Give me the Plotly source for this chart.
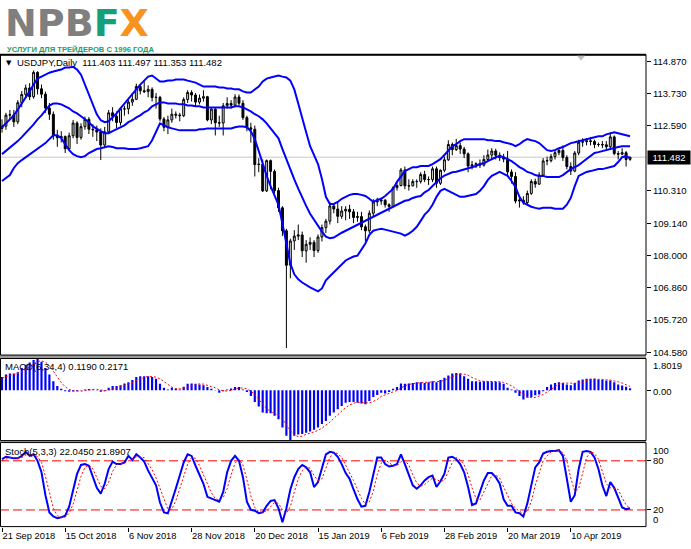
import plotly.graph_objects as go

# ---------------- DATA ----------------
date_ticks = [0, 16, 32, 48, 64, 80, 96, 112, 128, 144]
date_labels = ["21 Sep 2018", "15 Oct 2018", "6 Nov 2018", "28 Nov 2018", "20 Dec 2018",
               "15 Jan 2019", "6 Feb 2019", "28 Feb 2019", "20 Mar 2019", "10 Apr 2019"]

price_ticks = [114.87, 113.73, 112.59, 110.31, 109.14, 108.00, 106.86, 105.72, 104.58]
price_labels = ["114.870", "113.730", "112.590", "110.310", "109.140", "108.000", "106.860", "105.720", "104.580"]
last_price = 111.482

open_ = [112.50, 112.58, 112.97, 112.98, 112.73, 113.41, 113.70, 113.93, 113.62, 114.48,
         113.90, 113.71, 113.22, 113.00, 112.24, 112.17, 112.21, 111.78, 112.24, 112.69,
         112.18, 112.56, 112.82, 112.47, 112.45, 112.37, 111.91, 112.38, 113.05, 112.93,
         112.71, 113.19, 113.19, 113.43, 113.53, 113.98, 113.83, 113.80, 113.88, 113.59,
         113.60, 112.83, 112.54, 112.80, 113.00, 112.97, 112.95, 113.52, 113.77, 113.68,
         113.43, 113.57, 113.62, 112.80, 113.18, 112.70, 112.69, 113.30, 113.38, 113.32,
         113.61, 113.39, 112.88, 112.52, 112.47, 111.22, 111.23, 110.29, 111.36, 110.98,
         110.30, 109.69, 108.88, 107.66, 108.52, 108.69, 108.73, 108.17, 108.40, 108.47,
         108.18, 108.66, 108.99, 109.22, 109.76, 109.65, 109.39, 109.58, 109.64, 109.55,
         109.35, 109.38, 109.02, 108.88, 109.50, 109.90, 109.93, 109.96, 109.80, 109.74,
         110.40, 110.48, 111.03, 110.47, 110.47, 110.62, 110.62, 110.87, 110.69, 110.69,
         111.07, 110.56, 111.02, 111.39, 111.93, 111.75, 111.89, 111.77, 111.60, 111.17,
         111.21, 111.25, 111.20, 111.40, 111.56, 111.70, 111.55, 111.46, 111.42, 110.96,
         110.80, 109.93, 109.96, 109.88, 110.20, 110.62, 110.53, 110.85, 111.35, 111.36,
         111.50, 111.64, 111.72, 111.47, 111.15, 110.99, 111.63, 112.01, 112.03, 112.06,
         112.04, 111.93, 111.93, 111.92, 111.85, 112.20, 111.61, 111.59, 111.64, 111.403]

high = [112.82, 113.05, 113.15, 113.15, 113.50, 113.82, 114.05, 114.10, 114.55, 114.52,
        114.05, 113.80, 113.40, 113.10, 112.45, 112.40, 112.25, 112.35, 112.80, 112.75,
        112.68, 112.92, 112.90, 112.65, 112.60, 112.50, 112.55, 113.15, 113.25, 113.10,
        113.25, 113.30, 113.50, 113.75, 114.08, 114.05, 114.21, 114.02, 113.95, 113.75,
        113.65, 112.90, 112.95, 113.20, 113.10, 113.05, 113.60, 113.85, 113.85, 113.75,
        113.70, 113.85, 113.65, 113.25, 113.22, 112.95, 113.40, 113.60, 113.50, 113.71,
        113.70, 113.50, 112.95, 112.70, 112.60, 111.45, 111.40, 111.40, 111.40, 111.05,
        110.40, 109.75, 108.95, 108.60, 108.90, 109.10, 108.85, 108.55, 108.65, 108.55,
        108.75, 109.10, 109.30, 109.90, 109.85, 109.90, 109.75, 109.75, 109.80, 109.65,
        109.55, 109.55, 109.10, 109.60, 110.00, 110.05, 110.05, 110.00, 109.85, 110.45,
        110.60, 111.10, 111.15, 110.70, 110.70, 110.70, 110.95, 111.00, 110.80, 111.15,
        111.15, 111.05, 111.50, 112.08, 112.00, 112.13, 112.00, 111.85, 111.65, 111.35,
        111.30, 111.40, 111.55, 111.75, 111.80, 111.78, 111.65, 111.60, 111.70, 111.05,
        110.95, 110.10, 110.10, 110.30, 110.70, 110.72, 110.95, 111.45, 111.50, 111.60,
        111.75, 111.80, 111.90, 111.55, 111.30, 111.70, 112.10, 112.15, 112.15, 112.20,
        112.10, 112.00, 112.05, 112.05, 112.35, 112.25, 111.70, 111.80, 111.70, 111.497]

low = [112.35, 112.45, 112.80, 112.55, 112.65, 113.25, 113.60, 113.50, 113.55, 113.70,
       113.57, 113.05, 112.80, 112.10, 111.85, 112.00, 111.63, 111.70, 112.15, 111.95,
       112.10, 112.45, 112.30, 112.20, 112.05, 111.38, 111.80, 112.30, 112.75, 112.50,
       112.60, 112.95, 113.00, 113.30, 113.50, 113.70, 113.75, 113.60, 113.45, 113.20,
       112.75, 112.40, 112.30, 112.70, 112.85, 112.75, 112.90, 113.40, 113.45, 113.30,
       113.35, 113.45, 112.75, 112.65, 112.25, 112.55, 112.25, 113.20, 113.20, 113.25,
       113.30, 112.80, 112.40, 112.00, 110.80, 110.95, 110.25, 110.25, 110.35, 110.20,
       109.55, 108.70, 104.73, 107.20, 108.20, 108.55, 107.95, 107.75, 108.20, 107.95,
       108.10, 108.50, 108.80, 109.10, 109.50, 109.15, 109.30, 109.25, 109.30, 109.15,
       109.20, 108.90, 108.50, 108.80, 109.40, 109.75, 109.80, 109.70, 109.55, 109.70,
       110.30, 110.45, 110.35, 110.30, 110.45, 110.40, 110.55, 110.60, 110.50, 110.60,
       110.40, 110.50, 110.95, 111.35, 111.55, 111.70, 111.60, 111.45, 110.95, 111.05,
       111.10, 111.10, 111.15, 111.35, 111.40, 111.40, 111.35, 111.30, 110.85, 110.55,
       109.85, 109.70, 109.80, 109.82, 110.15, 110.40, 110.50, 110.80, 111.20, 111.30,
       111.40, 111.55, 111.35, 111.05, 110.85, 110.95, 111.55, 111.85, 111.90, 111.90,
       111.80, 111.85, 111.80, 111.75, 111.80, 111.55, 111.40, 111.55, 111.15, 111.353]

close = [112.58, 112.97, 112.98, 112.73, 113.41, 113.70, 113.93, 113.62, 114.48, 113.90,
         113.71, 113.22, 113.00, 112.24, 112.17, 112.21, 111.78, 112.24, 112.69, 112.18,
         112.56, 112.82, 112.47, 112.45, 112.37, 111.91, 112.38, 113.05, 112.93, 112.71,
         113.19, 113.19, 113.43, 113.53, 113.98, 113.83, 113.80, 113.88, 113.59, 113.60,
         112.83, 112.54, 112.80, 113.00, 112.97, 112.95, 113.52, 113.77, 113.68, 113.43,
         113.57, 113.62, 112.80, 113.18, 112.70, 112.69, 113.30, 113.38, 113.32, 113.61,
         113.39, 112.88, 112.52, 112.47, 111.22, 111.23, 110.29, 111.36, 110.98, 110.30,
         109.69, 108.88, 107.66, 108.52, 108.69, 108.73, 108.17, 108.40, 108.47, 108.18,
         108.66, 108.99, 109.22, 109.76, 109.65, 109.39, 109.58, 109.64, 109.55, 109.35,
         109.38, 109.02, 108.88, 109.50, 109.90, 109.93, 109.96, 109.80, 109.74, 110.40,
         110.48, 111.03, 110.47, 110.47, 110.62, 110.62, 110.87, 110.69, 110.69, 111.07,
         110.56, 111.02, 111.39, 111.93, 111.75, 111.89, 111.77, 111.60, 111.17, 111.21,
         111.25, 111.20, 111.40, 111.56, 111.70, 111.55, 111.46, 111.42, 110.96, 110.80,
         109.93, 109.96, 109.88, 110.20, 110.62, 110.53, 110.85, 111.35, 111.36, 111.50,
         111.64, 111.72, 111.47, 111.15, 110.99, 111.63, 112.01, 112.03, 112.06, 112.04,
         111.93, 111.93, 111.92, 111.85, 112.20, 111.61, 111.59, 111.64, 111.40, 111.482]

bb_upper = [112.54, 112.68, 112.82, 112.96, 113.17, 113.38, 113.56, 113.81, 114.05, 114.26,
            114.33, 114.40, 114.47, 114.51, 114.54, 114.58, 114.65, 114.65, 114.68, 114.58,
            114.40, 114.05, 113.70, 113.35, 113.00, 112.79, 112.72, 112.75, 112.89, 113.03,
            113.21, 113.38, 113.56, 113.73, 113.91, 114.05, 114.19, 114.33, 114.37, 114.26,
            114.16, 114.16, 114.19, 114.19, 114.23, 114.23, 114.23, 114.19, 114.16, 114.12,
            114.05, 113.98, 113.98, 113.98, 113.98, 113.95, 113.95, 113.91, 113.91, 113.88,
            113.88, 113.81, 113.77, 113.77, 113.88, 113.98, 114.16, 114.26, 114.30, 114.33,
            114.37, 114.33, 114.30, 114.19, 113.88, 113.38, 112.82, 112.36, 111.87, 111.56,
            111.24, 110.71, 110.08, 109.83, 109.83, 109.90, 110.01, 110.08, 110.15, 110.18,
            110.18, 110.15, 110.11, 110.01, 109.90, 109.97, 110.01, 110.11, 110.22, 110.36,
            110.61, 110.82, 110.99, 111.06, 111.13, 111.13, 111.17, 111.17, 111.17, 111.24,
            111.34, 111.41, 111.56, 111.73, 111.87, 111.94, 112.05, 112.12, 112.12, 112.12,
            112.12, 112.12, 112.12, 112.08, 112.08, 112.05, 112.05, 112.01, 111.98, 111.94,
            111.87, 111.94, 112.05, 112.12, 112.08, 112.05, 111.98, 111.87, 111.73, 111.70,
            111.73, 111.80, 111.84, 111.91, 111.98, 112.01, 112.05, 112.08, 112.12, 112.15,
            112.19, 112.22, 112.22, 112.29, 112.33, 112.36, 112.33, 112.29, 112.26, 112.22]

bb_middle = [111.59, 111.70, 111.80, 111.91, 112.05, 112.19, 112.33, 112.50, 112.64, 112.82,
             112.96, 113.14, 113.31, 113.38, 113.38, 113.35, 113.28, 113.21, 113.10, 113.03,
             112.93, 112.82, 112.72, 112.57, 112.47, 112.40, 112.33, 112.33, 112.40, 112.47,
             112.54, 112.61, 112.72, 112.79, 112.89, 112.96, 113.07, 113.14, 113.28, 113.35,
             113.42, 113.42, 113.38, 113.38, 113.38, 113.35, 113.35, 113.31, 113.31, 113.28,
             113.28, 113.24, 113.24, 113.24, 113.24, 113.24, 113.24, 113.24, 113.24, 113.28,
             113.28, 113.24, 113.17, 113.10, 113.00, 112.93, 112.82, 112.68, 112.50, 112.33,
             112.15, 111.77, 111.40, 111.03, 110.70, 110.37, 110.05, 109.76, 109.48, 109.26,
             109.06, 108.85, 108.67, 108.62, 108.64, 108.74, 108.81, 108.88, 108.95, 109.02,
             109.09, 109.16, 109.23, 109.30, 109.37, 109.45, 109.52, 109.59, 109.66, 109.73,
             109.80, 109.87, 109.94, 109.97, 110.04, 110.08, 110.11, 110.24, 110.32, 110.46,
             110.62, 110.74, 110.83, 110.89, 110.95, 110.97, 111.01, 111.04, 111.09, 111.13,
             111.17, 111.24, 111.27, 111.34, 111.41, 111.48, 111.52, 111.48, 111.41, 111.34,
             111.24, 111.13, 111.06, 110.96, 110.92, 110.85, 110.82, 110.82, 110.78, 110.78,
             110.78, 110.78, 110.85, 110.96, 111.06, 111.13, 111.20, 111.31, 111.41, 111.52,
             111.63, 111.66, 111.70, 111.73, 111.77, 111.80, 111.84, 111.87, 111.87, 111.87]

bb_lower = [110.64, 110.75, 110.85, 111.10, 111.27, 111.38, 111.48, 111.59, 111.70, 111.80,
            111.87, 111.98, 112.12, 112.26, 112.26, 112.15, 111.94, 111.73, 111.59, 111.52,
            111.48, 111.52, 111.63, 111.70, 111.77, 111.80, 111.84, 111.87, 111.84, 111.80,
            111.80, 111.80, 111.77, 111.77, 111.77, 111.80, 111.84, 111.87, 112.08, 112.36,
            112.68, 112.61, 112.54, 112.50, 112.47, 112.43, 112.43, 112.43, 112.43, 112.43,
            112.47, 112.47, 112.50, 112.50, 112.50, 112.50, 112.50, 112.50, 112.50, 112.54,
            112.57, 112.57, 112.54, 112.40, 112.12, 111.70, 111.24, 110.82, 110.46, 110.11,
            109.80, 109.13, 108.43, 107.72, 107.34, 107.16, 107.05, 106.95, 106.88, 106.81,
            106.74, 106.84, 107.13, 107.27, 107.41, 107.55, 107.69, 107.83, 107.90, 107.97,
            108.00, 108.21, 108.43, 108.74, 108.88, 108.92, 108.95, 108.92, 108.88, 108.85,
            108.81, 108.78, 108.71, 108.78, 108.88, 109.02, 109.23, 109.45, 109.59, 109.80,
            110.08, 110.29, 110.36, 110.29, 110.22, 110.15, 110.08, 110.08, 110.11, 110.15,
            110.18, 110.29, 110.46, 110.68, 110.82, 110.89, 110.96, 110.89, 110.82, 110.64,
            110.43, 110.08, 109.87, 109.80, 109.73, 109.69, 109.66, 109.69, 109.69, 109.69,
            109.66, 109.66, 109.66, 109.80, 110.04, 110.46, 110.82, 110.89, 110.96, 110.99,
            111.03, 111.06, 111.06, 111.10, 111.13, 111.17, 111.31, 111.48, 111.52, 111.45]

macd_hist = [0.76, 0.90, 0.95, 0.95, 1.03, 1.27, 1.46, 1.59, 1.72, 1.80,
             1.62, 1.27, 0.90, 0.52, 0.24, 0.08, -0.05, -0.08, -0.07, -0.05,
             0.01, 0.05, 0.07, 0.05, 0.01, -0.08, -0.05, 0.14, 0.24, 0.24,
             0.29, 0.39, 0.46, 0.58, 0.76, 0.80, 0.80, 0.80, 0.76, 0.65,
             0.37, 0.14, 0.05, 0.14, 0.08, 0.05, 0.20, 0.37, 0.39, 0.37,
             0.33, 0.29, 0.18, 0.08, -0.01, -0.14, -0.05, 0.05, 0.10, 0.18,
             0.18, 0.05, -0.10, -0.33, -0.67, -0.93, -1.27, -1.31, -1.31, -1.46,
             -1.65, -2.12, -2.59, -2.87, -2.60, -2.52, -2.50, -2.42, -2.35, -2.25,
             -2.12, -1.93, -1.75, -1.46, -1.27, -1.08, -0.90, -0.71, -0.67, -0.67,
             -0.71, -0.75, -0.80, -0.61, -0.39, -0.27, -0.14, -0.18, -0.10, 0.08,
             0.18, 0.39, 0.37, 0.39, 0.42, 0.46, 0.46, 0.42, 0.46, 0.52,
             0.46, 0.58, 0.71, 0.84, 0.95, 0.99, 0.95, 0.80, 0.65, 0.52,
             0.52, 0.48, 0.52, 0.52, 0.48, 0.48, 0.46, 0.37, 0.14, 0.05,
             -0.14, -0.33, -0.52, -0.42, -0.39, -0.29, -0.24, -0.05, 0.18, 0.33,
             0.42, 0.46, 0.42, 0.33, 0.29, 0.42, 0.56, 0.61, 0.65, 0.65,
             0.65, 0.61, 0.58, 0.56, 0.56, 0.46, 0.33, 0.27, 0.20, 0.119]

macd_signal = [0.70, 0.78, 0.85, 0.89, 0.96, 1.05, 1.18, 1.34, 1.51, 1.64,
               1.68, 1.60, 1.40, 1.08, 0.73, 0.44, 0.20, 0.05, -0.03, -0.06,
               -0.05, -0.02, 0.02, 0.05, 0.05, 0.01, -0.02, 0.01, 0.06, 0.14,
               0.23, 0.29, 0.35, 0.43, 0.55, 0.65, 0.73, 0.79, 0.79, 0.75,
               0.65, 0.48, 0.30, 0.18, 0.10, 0.08, 0.12, 0.18, 0.25, 0.33,
               0.37, 0.35, 0.29, 0.22, 0.14, 0.03, -0.03, -0.04, -0.01, 0.07,
               0.13, 0.13, 0.08, -0.05, -0.24, -0.51, -0.80, -1.05, -1.21, -1.34,
               -1.43, -1.64, -1.96, -2.31, -2.55, -2.65, -2.62, -2.51, -2.45, -2.38,
               -2.29, -2.16, -2.01, -1.82, -1.60, -1.39, -1.18, -0.99, -0.84, -0.74,
               -0.69, -0.70, -0.73, -0.72, -0.64, -0.52, -0.35, -0.25, -0.17, -0.09,
               -0.01, 0.14, 0.26, 0.33, 0.39, 0.41, 0.43, 0.44, 0.45, 0.47,
               0.47, 0.51, 0.57, 0.65, 0.77, 0.87, 0.93, 0.92, 0.85, 0.73,
               0.62, 0.54, 0.51, 0.51, 0.50, 0.50, 0.49, 0.45, 0.36, 0.26,
               0.10, -0.07, -0.24, -0.35, -0.42, -0.41, -0.34, -0.24, -0.10, 0.06,
               0.22, 0.35, 0.41, 0.41, 0.38, 0.37, 0.40, 0.47, 0.56, 0.62,
               0.64, 0.64, 0.62, 0.60, 0.58, 0.54, 0.48, 0.41, 0.32, 0.2171]

stoch_k = [82, 85, 84, 83, 83, 86, 91, 86, 88, 80,
           66, 38, 17, 12, 10, 11, 13, 24, 44, 64,
           75, 76, 74, 60, 47, 40, 52, 70, 79, 76,
           76, 78, 86, 81, 88, 84, 79, 68, 59, 50,
           29, 17, 16, 30, 46, 62, 78, 88, 86, 74,
           63, 52, 36, 34, 32, 30, 42, 66, 80, 86,
           80, 60, 30, 20, 19, 16, 17, 25, 31, 32,
           22, 5, 22, 45, 60, 70, 75, 72, 66, 48,
           54, 72, 88, 91, 90, 85, 76, 65, 58, 45,
           33, 24, 25, 42, 62, 84, 84, 76, 73, 74,
           76, 88, 76, 62, 50, 46, 50, 56, 60, 62,
           48, 55, 64, 84, 85, 82, 76, 66, 48, 26,
           28, 42, 56, 65, 65, 60, 52, 33, 25, 25,
           17, 16, 12, 28, 49, 72, 78, 89, 91, 92,
           92, 93, 86, 60, 30, 38, 70, 91, 92, 91,
           84, 70, 50, 37, 54, 47, 35, 23, 21, 22.045]

stoch_d = [80, 82, 84, 84, 83, 84, 87, 88, 88, 85,
           78, 61, 40, 22, 13, 11, 11, 16, 27, 44,
           61, 72, 75, 70, 60, 49, 46, 54, 67, 75,
           77, 77, 80, 82, 85, 84, 84, 77, 69, 59,
           46, 32, 21, 21, 31, 46, 62, 76, 84, 83,
           74, 63, 50, 41, 34, 32, 35, 46, 63, 77,
           82, 75, 57, 37, 23, 18, 17, 19, 24, 29,
           28, 20, 16, 24, 42, 58, 68, 72, 71, 62,
           56, 58, 71, 84, 90, 89, 84, 75, 66, 56,
           45, 34, 27, 30, 43, 63, 77, 81, 78, 74,
           74, 79, 80, 75, 63, 53, 49, 51, 55, 59,
           57, 55, 56, 68, 78, 84, 81, 75, 63, 47,
           34, 32, 42, 54, 62, 63, 59, 48, 37, 28,
           22, 19, 15, 19, 30, 50, 66, 80, 86, 91,
           92, 92, 90, 80, 59, 43, 46, 66, 84, 91,
           89, 82, 68, 52, 47, 46, 45, 35, 26, 21.8907]

stoch_levels = [80, 20]

# ---------------- LAYOUT HELPERS ----------------
W, H = 691, 549
def fx(p):
    return p / W
def fy(p):
    return 1 - p / H

PLOT_R = 646
MAIN_T, MAIN_B = 55, 357
MACD_T, MACD_B = 360.5, 443
STO_T, STO_B = 445, 529.5

FONT = "Liberation Sans, Arial, sans-serif"
BLUE = "#0000ff"
RED = "#ff0000"

idx = list(range(len(close)))

fig = go.Figure()

# main: candles + bands
fig.add_trace(go.Candlestick(
    x=idx, open=open_, high=high, low=low, close=close,
    xaxis="x", yaxis="y",
    increasing=dict(line=dict(color="black", width=1), fillcolor="#d8d8d8"),
    decreasing=dict(line=dict(color="black", width=1), fillcolor="black"),
    whiskerwidth=0, showlegend=False, hoverinfo="skip"))
for band in (bb_upper, bb_middle, bb_lower):
    fig.add_trace(go.Scatter(x=idx, y=band, mode="lines", xaxis="x", yaxis="y",
                             line=dict(color=BLUE, width=2), showlegend=False, hoverinfo="skip"))

# MACD
fig.add_trace(go.Bar(x=idx, y=macd_hist, xaxis="x", yaxis="y2", width=0.55,
                     marker=dict(color=BLUE, line=dict(width=0)), showlegend=False, hoverinfo="skip"))
fig.add_trace(go.Scatter(x=idx, y=macd_signal, mode="lines", xaxis="x", yaxis="y2",
                         line=dict(color=RED, width=1, dash="2px,2px"), showlegend=False, hoverinfo="skip"))

# Stochastic
fig.add_trace(go.Scatter(x=idx, y=stoch_k, mode="lines", xaxis="x", yaxis="y3",
                         line=dict(color=BLUE, width=2), showlegend=False, hoverinfo="skip"))
fig.add_trace(go.Scatter(x=idx, y=stoch_d, mode="lines", xaxis="x", yaxis="y3",
                         line=dict(color=RED, width=1, dash="2px,2px"), showlegend=False, hoverinfo="skip"))

shapes = []
# bid line
shapes.append(dict(type="line", xref="paper", yref="y", x0=0, x1=fx(PLOT_R), y0=last_price, y1=last_price,
                   line=dict(color="#c8c8c8", width=1), layer="below"))
# stochastic levels
for lv in stoch_levels:
    shapes.append(dict(type="line", xref="paper", yref="y3", x0=0, x1=fx(PLOT_R), y0=lv, y1=lv,
                       line=dict(color=RED, width=1, dash="9px,4px"), layer="below"))
# separators
for (a, b) in ((MAIN_B, MACD_T), (MACD_B, STO_T)):
    shapes.append(dict(type="rect", xref="paper", yref="paper", x0=0, x1=fx(PLOT_R),
                       y0=fy(b), y1=fy(a), fillcolor="#9a9a9a", line=dict(width=0)))
# frames
for (t, b) in ((MAIN_T, MAIN_B), (MACD_T, MACD_B), (STO_T, STO_B)):
    shapes.append(dict(type="rect", xref="paper", yref="paper", x0=fx(0.5), x1=fx(PLOT_R),
                       y0=fy(b), y1=fy(t), line=dict(color="black", width=1), fillcolor="rgba(0,0,0,0)"))
shapes.append(dict(type="line", xref="paper", yref="paper", x0=0, x1=fx(PLOT_R), y0=fy(MAIN_T), y1=fy(MAIN_T),
                   line=dict(color="black", width=2)))
# chart-shift marker
shapes.append(dict(type="path", xref="paper", yref="paper",
                   path=f"M {fx(577)} {fy(56)} L {fx(585)} {fy(56)} L {fx(581)} {fy(61)} Z",
                   fillcolor="#c0c0c0", line=dict(width=0)))

ann = []
# logo
ann.append(dict(xref="paper", yref="paper", x=fx(4), y=fy(23), xanchor="left", yanchor="middle",
                text="<b><span style='color:#7f7f7f'>NPB</span><span style='color:#16a079'>F</span>"
                     "<span style='color:#f7931e'>X</span></b>",
                showarrow=False, borderpad=0, font=dict(family="DejaVu Sans, sans-serif", size=38)))
ann.append(dict(xref="paper", yref="paper", x=fx(6), y=fy(50), xanchor="left", yanchor="middle",
                text="<b>УСЛУГИ ДЛЯ ТРЕЙДЕРОВ С 1996 ГОДА</b>", showarrow=False, borderpad=0,
                font=dict(family="Liberation Sans, Arial, sans-serif", size=7.6, color="#1b9e66")))
# headers
ann.append(dict(xref="paper", yref="paper", x=fx(4), y=fy(63), xanchor="left", yanchor="middle",
                text="▼", showarrow=False, font=dict(family="DejaVu Sans", size=7, color="black")))
ann.append(dict(xref="paper", yref="paper", x=fx(15), y=fy(63), xanchor="left", yanchor="middle",
                text="USDJPY,Daily  111.403 111.497 111.353 111.482", showarrow=False,
                font=dict(family=FONT, size=9.5, color="black")))
ann.append(dict(xref="paper", yref="paper", x=fx(3), y=fy(369), xanchor="left", yanchor="middle",
                text="MACD(6,34,4) 0.1190 0.2171", showarrow=False,
                font=dict(family=FONT, size=9.5, color="black")))
ann.append(dict(xref="paper", yref="paper", x=fx(3), y=fy(453.5), xanchor="left", yanchor="middle",
                text="Stoch(5,3,3) 22.0450 21.8907", showarrow=False,
                font=dict(family=FONT, size=9.5, color="black")))
# last price box
ann.append(dict(xref="paper", yref="y", x=fx(647), y=last_price, xanchor="left", yanchor="middle",
                text="111.482", showarrow=False, bgcolor="black", width=40, height=11, borderpad=1,
                font=dict(family=FONT, size=9.5, color="white")))
# indicator scale labels
for (txt, val, yr, sh) in (("1.8019", 1.8019, "y2", -6.7), ("0.00", 0.0, "y2", -0.9), ("-2.8717", -2.8717, "y2", 6.3),
                           ("100", 100, "y3", -5.8), ("0", 0, "y3", 6.5)):
    ann.append(dict(xref="paper", yref=yr, x=fx(651), y=val, yshift=sh, xanchor="left", yanchor="middle",
                    text=txt, showarrow=False, font=dict(family=FONT, size=9.5, color="black")))

axis_common = dict(showgrid=False, zeroline=False, showline=False, fixedrange=True)

fig.update_layout(
    width=W, height=H, margin=dict(l=0, r=0, t=0, b=0),
    paper_bgcolor="white", plot_bgcolor="white", showlegend=False, hovermode=False,
    font=dict(family=FONT, size=9.5, color="black"),
    xaxis=dict(domain=[0, fx(PLOT_R)], range=[-0.506, 163.04], anchor="y3",
               tickmode="array", tickvals=date_ticks, ticktext=date_labels,
               ticks="outside", ticklen=4, tickcolor="black", ticklabelposition="outside right",
               tickfont=dict(family=FONT, size=9.3, color="black"),
               rangeslider=dict(visible=False), **axis_common),
    yaxis=dict(domain=[fy(MAIN_B), fy(MAIN_T)], range=[104.485, 115.106], side="right", anchor="x",
               tickmode="array", tickvals=price_ticks, ticktext=price_labels,
               ticks="outside", ticklen=4, tickcolor="black",
               tickfont=dict(family=FONT, size=9.5, color="black"), **axis_common),
    yaxis2=dict(domain=[fy(MACD_B), fy(MACD_T)], range=[-2.87, 1.81], side="right", anchor="x",
                tickmode="array", tickvals=[0], showticklabels=False,
                ticks="outside", ticklen=4, tickcolor="black", **axis_common),
    yaxis3=dict(domain=[fy(STO_B), fy(STO_T)], range=[-0.36, 102.3], side="right", anchor="x",
                tickmode="array", tickvals=[80, 20], ticktext=["80", "20"],
                ticks="outside", ticklen=4, tickcolor="black",
                tickfont=dict(family=FONT, size=9.5, color="black"), **axis_common),
    shapes=shapes, annotations=ann,
)

fig.write_html("out.html", config={"displayModeBar": False, "staticPlot": True},
               post_script="document.body.style.margin='0';")
